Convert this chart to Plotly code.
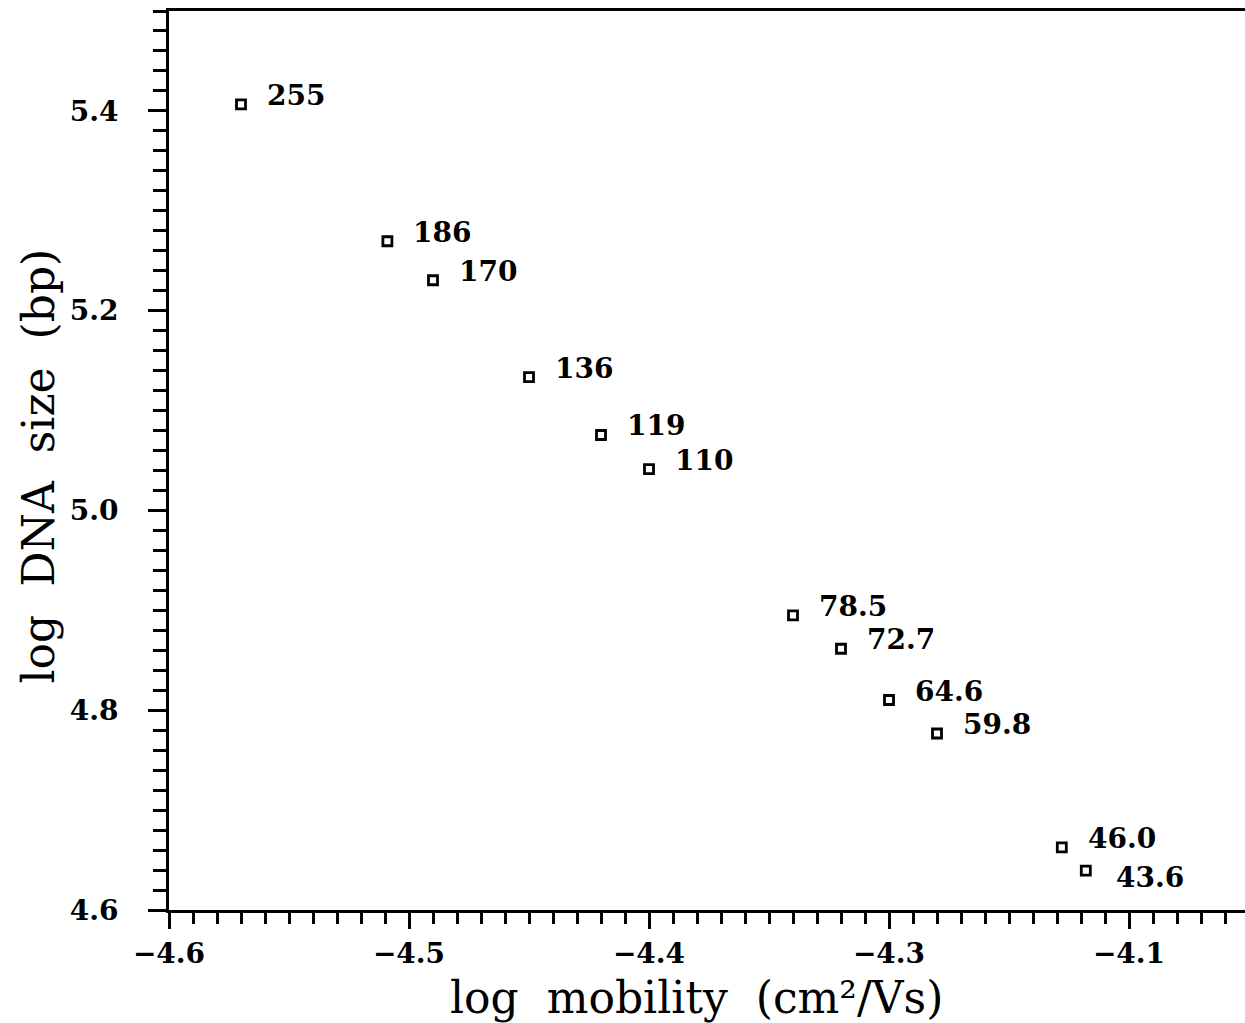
import numpy as np
import plotly.graph_objects as go

# DNA fragment sizes (kb) and their measured log mobility (cm^2/Vs)
size_kb = [255, 186, 170, 136, 119, 110, 78.5, 72.7, 64.6, 59.8, 46.0, 43.6]
size_text = ["255", "186", "170", "136", "119", "110",
             "78.5", "72.7", "64.6", "59.8", "46.0", "43.6"]
log_mobility = [-4.570, -4.509, -4.490, -4.450, -4.420, -4.400,
                -4.340, -4.320, -4.300, -4.280, -4.228, -4.218]

# y axis quantity: log of the size in base pairs
log_size_bp = np.log10(np.array(size_kb) * 1000.0)

x_tick_vals = [-4.6, -4.5, -4.4, -4.3, -4.2]
x_tick_text = ["\u22124.6", "\u22124.5", "\u22124.4", "\u22124.3", "\u22124.1"]
y_tick_vals = [4.6, 4.8, 5.0, 5.2, 5.4]
y_tick_text = ["4.6", "4.8", "5.0", "5.2", "5.4"]

FONT = "DejaVu Serif"
NB = "\u00a0"

fig = go.Figure()
fig.add_trace(go.Scatter(
    x=log_mobility, y=log_size_bp, mode="markers",
    marker=dict(symbol="square-open", size=9, color="black",
                line=dict(width=2.8, color="black")),
    showlegend=False, hoverinfo="skip",
))

# labels sit just to the right of each point; the last one drops below
for xv, yv, t in zip(log_mobility, log_size_bp, size_text):
    below = (t == "43.6")
    fig.add_annotation(
        x=xv, y=yv, text=f"<b>{t}</b>", showarrow=False,
        xanchor="left", yanchor="middle",
        xshift=28 if below else 24, yshift=-7 if below else 9,
        font=dict(family=FONT, size=28, color="black"),
    )

# axis titles placed relative to the plot area
fig.add_annotation(
    text=f"log{NB}{NB}mobility{NB}{NB}(cm\u00b2/Vs)",
    xref="paper", yref="paper", x=0.49, y=0, yshift=-87,
    xanchor="center", yanchor="middle", showarrow=False,
    font=dict(family=FONT, size=44, color="black"),
)
fig.add_annotation(
    text=f"log{NB}{NB}DNA{NB}{NB}size{NB}{NB}(bp)",
    xref="paper", yref="paper", x=0, y=0.5, xshift=-131, yshift=-6,
    xanchor="center", yanchor="middle", textangle=-90, showarrow=False,
    font=dict(family=FONT, size=44, color="black"),
)

axis_common = dict(
    showgrid=False, zeroline=False,
    showline=True, linecolor="black", linewidth=3,
    ticks="outside", tickcolor="black", tickwidth=3,
    tickfont=dict(family=FONT, size=28, color="black", weight="bold"),
)

fig.update_xaxes(
    range=[-4.6, -4.6 + 1076 / 2400], mirror=True,
    tickmode="array", tickvals=x_tick_vals, ticktext=x_tick_text,
    ticklen=16, ticklabelstandoff=0,
    minor=dict(dtick=0.01, tick0=-4.6, ticks="outside", ticklen=11,
               tickwidth=2.5, tickcolor="black", showgrid=False),
    **axis_common,
)
fig.update_yaxes(
    range=[4.6, 5.5], mirror=False,
    tickmode="array", tickvals=y_tick_vals, ticktext=y_tick_text,
    ticklen=18, ticklabelstandoff=24,
    minor=dict(dtick=0.02, tick0=4.6, ticks="outside", ticklen=13,
               tickwidth=2.5, tickcolor="black", showgrid=False),
    **axis_common,
)

fig.update_layout(
    width=1245, height=1023,
    margin=dict(l=169, r=0, t=11, b=113),
    paper_bgcolor="white", plot_bgcolor="white",
)

fig.write_html("out.html")
